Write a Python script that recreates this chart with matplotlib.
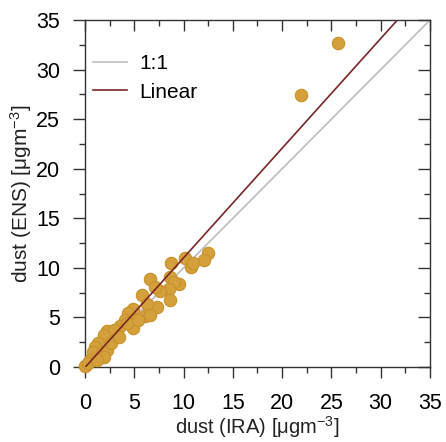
import matplotlib
matplotlib.use("Agg")
import matplotlib.pyplot as plt
import numpy as np
from matplotlib.ticker import MultipleLocator

plt.rcParams['font.family'] = ['Liberation Sans', 'DejaVu Sans']
plt.rcParams['mathtext.default'] = 'regular'

ira = [12.5, 12.1, 10.1, 10.8, 11.0, 8.7, 6.6, 9.5, 8.6, 9.0, 8.5, 7.6, 7.1, 8.6,
       5.75, 7.3, 6.3, 6.1, 4.9, 4.4, 4.9, 4.1, 3.6, 3.0, 2.2, 2.9, 1.9, 1.35, 1.0,
       0.85, 1.7, 2.2, 1.9, 0.5, 0.0, 0.35, 1.2, 2.6, 3.4, 4.3, 5.4, 6.6, 21.9, 25.7]
ens = [11.5, 10.8, 11.0, 10.1, 10.5, 10.5, 8.9, 8.4, 9.1, 8.6, 7.9, 7.7, 8.1, 6.8,
       7.3, 6.1, 6.4, 5.1, 5.8, 5.4, 3.9, 4.7, 4.1, 3.4, 3.6, 3.7, 3.2, 2.4, 2.0,
       1.5, 1.4, 1.7, 1.0, 0.7, 0.05, 0.4, 0.7, 2.4, 3.0, 4.4, 4.7, 5.2, 27.4, 32.7]

fit_slope = 1.106
fit_intercept = -0.05
axis_max = 35

fig = plt.figure(figsize=(4.46, 4.42), dpi=100)
ax = fig.add_axes([0.1906, 0.1697, 0.7735, 0.785])

ax.scatter(ira, ens, s=80, facecolor='#D4A03C', edgecolor='#C8922A', linewidth=0.8,
           zorder=3, clip_on=False)
x11 = np.array([0, axis_max])
ax.plot(x11, x11, color='#BDBDBD', lw=1.2, label='1:1', zorder=2)
ax.plot(x11, fit_slope * x11 + fit_intercept, color='#7A2626', lw=1.2, label='Linear', zorder=4)

ax.set_xlim(0, axis_max)
ax.set_ylim(0, axis_max)
ax.xaxis.set_major_locator(MultipleLocator(5))
ax.yaxis.set_major_locator(MultipleLocator(5))
ax.xaxis.set_minor_locator(MultipleLocator(2.5))
ax.yaxis.set_minor_locator(MultipleLocator(2.5))
tick_col = '#333333'
ax.tick_params(which='both', bottom=True, left=True, direction='out', color=tick_col, width=1.0)
ax.tick_params(which='both', top=True, right=True, labeltop=False, labelright=False)
ax.tick_params(axis='x', which='major', length=8, pad=11, labelsize=15.5)
ax.tick_params(axis='y', which='major', length=9, pad=9, labelsize=15.5)
ax.tick_params(which='minor', length=4)
# top and right ticks point into the plot
for t in ax.xaxis.get_major_ticks() + ax.xaxis.get_minor_ticks():
    t.tick2line.set_marker(3)  # TICKDOWN
for t in ax.yaxis.get_major_ticks() + ax.yaxis.get_minor_ticks():
    t.tick2line.set_marker(0)  # TICKLEFT
for s in ax.spines.values():
    s.set_color(tick_col)
    s.set_linewidth(1.0)

ax.set_xlabel('dust (IRA) [μgm$^{-3}$]', fontsize=14.5, labelpad=0, color='#222222')
ax.set_ylabel('dust (ENS) [μgm$^{-3}$]', fontsize=15, labelpad=1, color='#222222')

leg = ax.legend(loc='upper left', frameon=False, fontsize=15, handlelength=1.6,
                handletextpad=0.6, borderaxespad=0.0, bbox_to_anchor=(0.0, 0.925),
                labelspacing=0.45)

fig.savefig('out.png', dpi=100)
